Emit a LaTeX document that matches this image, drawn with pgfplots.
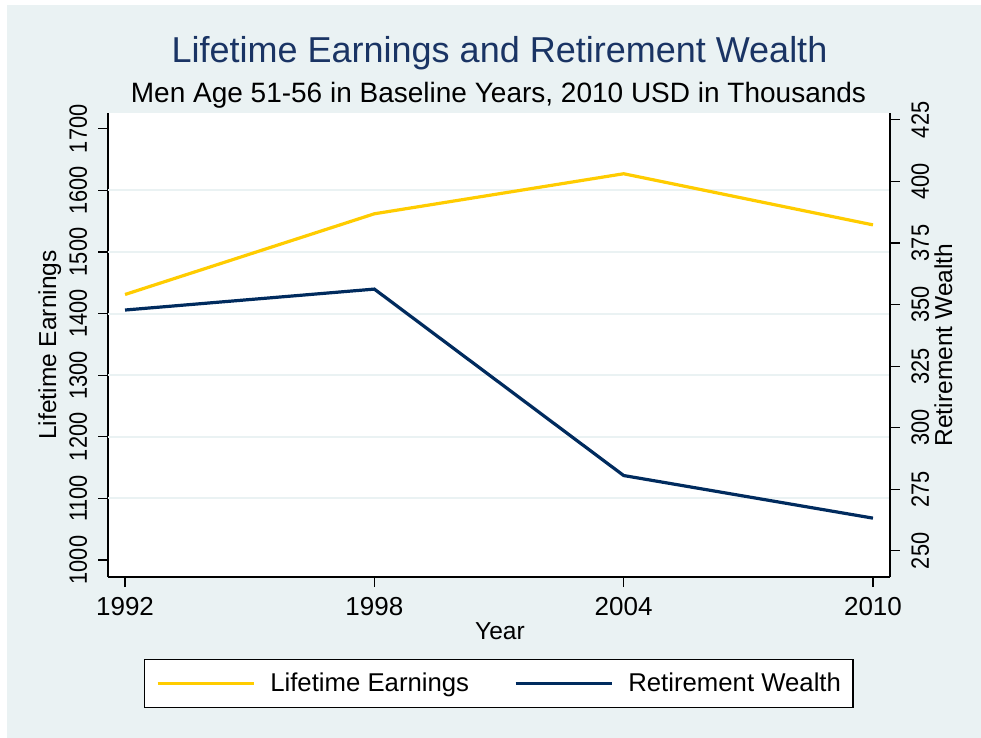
\documentclass[border=0pt]{standalone}
\usepackage{fontspec}
\setmainfont{Liberation Sans}
\newfontfamily\ytickfont[FakeStretch=0.87]{Liberation Sans}
\usepackage{pgfplots}
\pgfplotsset{compat=1.18}

\definecolor{bgc}{RGB}{234,242,243}
\definecolor{gridc}{RGB}{234,242,243}
\definecolor{goldc}{RGB}{255,204,0}
\definecolor{navyc}{RGB}{0,43,94}
\definecolor{titlec}{RGB}{26,52,100}

\begin{document}
\begin{tikzpicture}[x=0.75pt,y=-0.75pt]
\useasboundingbox (0,0) rectangle (981,738);
\fill[white] (0,0) rectangle (981,738);
\fill[bgc] (7,5) rectangle (981,738);

\pgfplotsset{every axis/.append style={
  scale only axis, width=586.5pt, height=348pt,
  at={(81pt,-432.75pt)}, anchor=south west,
  xmin=1991.59, xmax=2010.41,
  tick align=outside, major tick length=7.5pt,
  axis line style={black, line width=0.9pt},
  tick style={black, line width=0.9pt},
  yticklabel style={font=\ytickfont\fontsize{18.8}{21}\selectfont, inner sep=0pt},
  xticklabel style={font=\fontsize{19.5}{22}\selectfont, inner sep=0pt},
  /pgf/number format/assume math mode=true,
  /pgf/number format/1000 sep={},
}}

% left axis: lifetime earnings
\begin{axis}[
  axis x line*=bottom, axis y line*=left,
  axis background/.style={fill=white},
  ymin=972.4, ymax=1725.6,
  ytick={1000,1100,...,1700},
  extra y ticks={1100,1200,...,1600},
  extra y tick labels={},
  extra y tick style={grid=major, major tick length=0pt, grid style={gridc, line width=1.5pt}},
  xtick={1992,1998,2004,2010},
  yticklabel style={xshift=-8pt, rotate=90, anchor=south},
  xticklabel style={anchor=north, yshift=-7.5pt},
  legend columns=2,
  legend style={at={(0.4994,-0.2295)}, anchor=center, draw=black, fill=white,
    line width=0.9pt, inner xsep=9pt, inner ysep=8pt,
    font=\fontsize{19.3}{21}\selectfont, nodes={inner xsep=0pt},
    /tikz/every odd column/.append style={column sep=11.25pt},
    /tikz/every even column/.append style={column sep=33.75pt}},
  legend image code/.code={\draw[#1] (0pt,0pt) -- (72pt,0pt);},
]
\addplot[goldc, line width=2.4pt] coordinates {
  (1992,1431) (1998,1562) (2004,1627) (2010,1544)
};
\addlegendentry{Lifetime Earnings}
\addlegendimage{navyc, line width=2.4pt}
\addlegendentry{Retirement Wealth\hspace{7.5pt}}
\end{axis}

% right axis: retirement wealth
\begin{axis}[
  axis x line=none, axis y line*=right,
  ymin=239.4, ymax=427.8,
  ytick={250,275,...,425},
  yticklabel style={xshift=8.25pt, rotate=90, anchor=north},
]
\addplot[navyc, line width=2.4pt] coordinates {
  (1992,347.8) (1998,356.3) (2004,280.6) (2010,263.3)
};
\end{axis}

\node[titlec, font=\fontsize{27}{30}\selectfont, anchor=base] at (499.5,63) {Lifetime Earnings and Retirement Wealth};
\node[font=\fontsize{21}{24}\selectfont, anchor=base] at (498.5,103) {Men Age 51-56 in Baseline Years, 2010 USD in Thousands};
\node[font=\fontsize{18.4}{21}\selectfont, anchor=base] at (500,639) {Year};
\node[font=\fontsize{18.4}{21}\selectfont, anchor=base, rotate=90] at (56,345) {Lifetime Earnings};
\node[font=\fontsize{18.4}{21}\selectfont, anchor=base, rotate=90] at (952,345) {Retirement Wealth};
\end{tikzpicture}
\end{document}
